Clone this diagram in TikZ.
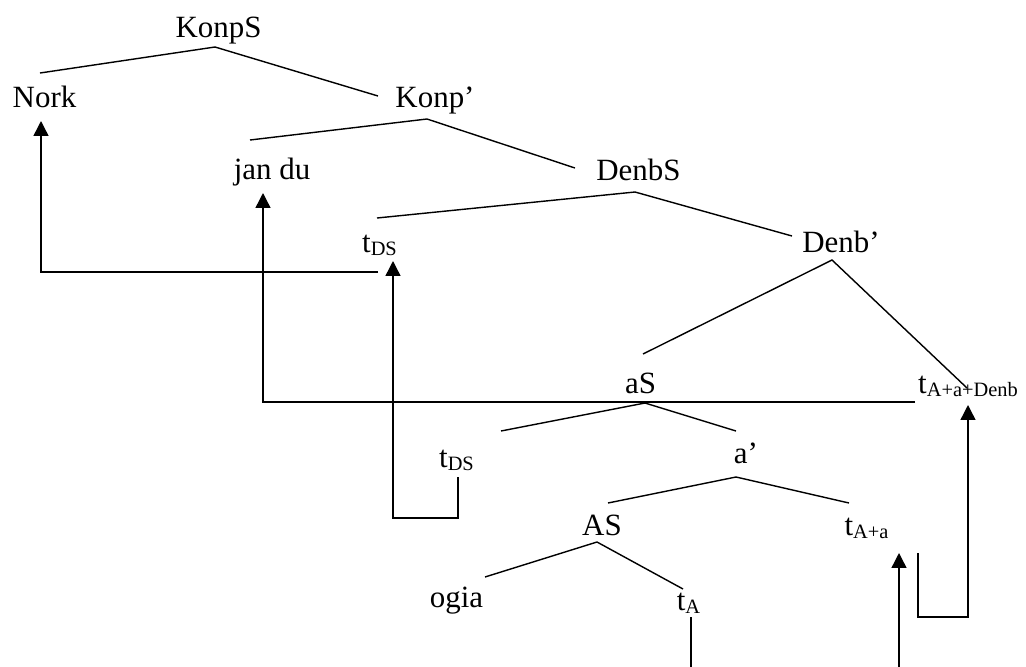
\documentclass[tikz,border=0pt]{standalone}
\usepackage{fontspec}
\setmainfont{Liberation Serif}
\usetikzlibrary{arrows.meta}
\newcommand\sub[1]{\raisebox{-2.5pt}{\fontsize{14.5}{16}\selectfont #1}}
\tikzset{
  lbl/.style={anchor=base, inner sep=0pt, font=\fontsize{22}{26}\selectfont},
  branch/.style={line width=1pt},
  move/.style={line width=1pt, -{Triangle[width=10.5pt,length=10.5pt]}},
}

\begin{document}
\begin{tikzpicture}[x=0.025cm, y=-0.025cm]
			%%%%% FRAME %%%%%
			\useasboundingbox (0,0) rectangle (1026,666);
			\clip (0,0) rectangle (1026,666);

			%%%%% LABELS %%%%%
			\node[lbl] (KonpS) at (218.5,37) {KonpS};
			\node[lbl] (Nork) at (44.5,107) {Nork};
			\node[lbl] (KonpP) at (435,107) {Konp’};
			\node[lbl] (jandu) at (272,179) {jan du};
			\node[lbl] (DenbS) at (638.5,180) {DenbS};
			\node[lbl] (tDSup) at (379.5,252) {t\sub{DS}};
			\node[lbl] (DenbP) at (841,252) {Denb’};
			\node[lbl] (aS) at (640.5,393) {aS};
			\node[lbl] (tAaDenb) at (968,393) {t\sub{A+a+Denb}};
			\node[lbl] (tDSlow) at (456.5,467) {t\sub{DS}};
			\node[lbl] (aP) at (746,463) {a’};
			\node[lbl] (AS) at (602,535) {AS};
			\node[lbl] (tAa) at (866.5,535) {t\sub{A+a}};
			\node[lbl] (ogia) at (456.5,607) {ogia};
			\node[lbl] (tA) at (688.5,610) {t\sub{A}};

			%%%%% BRANCH ENDS %%%%%
			\coordinate (KonpS-br) at (215,47);
			\coordinate (Nork-br) at (40,73);
			\coordinate (KonpP-in) at (378,96);
			\coordinate (KonpP-br) at (427,119);
			\coordinate (jandu-br) at (250,140);
			\coordinate (DenbS-in) at (575,168);
			\coordinate (DenbS-br) at (635,192);
			\coordinate (tDSup-br) at (377,218);
			\coordinate (DenbP-in) at (792,236);
			\coordinate (DenbP-br) at (832,260);
			\coordinate (aS-in) at (643,354);
			\coordinate (tAaDenb-br) at (967,388);
			\coordinate (aS-br) at (645,403);
			\coordinate (tDSlow-br) at (501,431);
			\coordinate (aP-in) at (736,431);
			\coordinate (aP-br) at (736,477);
			\coordinate (AS-in) at (608,503);
			\coordinate (tAa-br) at (849,503);
			\coordinate (AS-br) at (597,542);
			\coordinate (ogia-br) at (485,577);
			\coordinate (tA-br) at (683,589);

			\draw[branch] (Nork-br) -- (KonpS-br) -- (KonpP-in);
			\draw[branch] (jandu-br) -- (KonpP-br) -- (DenbS-in);
			\draw[branch] (tDSup-br) -- (DenbS-br) -- (DenbP-in);
			\draw[branch] (aS-in) -- (DenbP-br) -- (tAaDenb-br);
			\draw[branch] (tDSlow-br) -- (aS-br) -- (aP-in);
			\draw[branch] (AS-in) -- (aP-br) -- (tAa-br);
			\draw[branch] (ogia-br) -- (AS-br) -- (tA-br);

			%%%%% MOVEMENT %%%%%
			\coordinate (Nork-to) at (41,121);
			\coordinate (tDSup-from) at (378,272);
			\coordinate (jandu-to) at (263,193);
			\coordinate (tAaDenb-from) at (915,402);
			\coordinate (tDSup-to) at (393,261);
			\coordinate (tDSlow-from) at (458,477);
			\coordinate (tAa-to) at (899,553);
			\coordinate (tA-from) at (691,617);
			\coordinate (tAaDenb-to) at (968,405);
			\coordinate (tAa-from) at (918,553);

			\draw[move] (tDSup-from) -| (Nork-to);
			\draw[move] (tAaDenb-from) -| (jandu-to);
			\draw[move] (tDSlow-from) -- ++(0,41) -| (tDSup-to);
			\draw[move] (tA-from) -- ++(0,80) -| (tAa-to);
			\draw[move] (tAa-from) -- ++(0,64) -| (tAaDenb-to);
\end{tikzpicture}
\end{document}
